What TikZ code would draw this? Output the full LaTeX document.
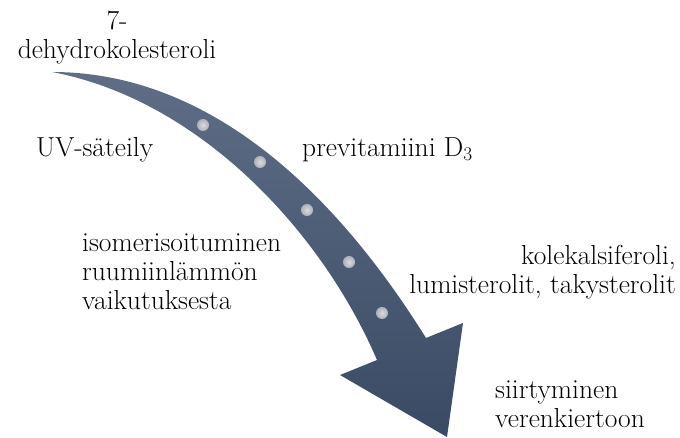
\documentclass[tikz,border=0pt]{standalone}
\usepackage{tikz}
\usetikzlibrary{positioning}
\definecolor{slatetop}{HTML}{5F6E86}
\definecolor{slatebottom}{HTML}{3A4A64}
\definecolor{beadlight}{HTML}{DADBE0}
\definecolor{beaddark}{HTML}{AEB1BA}

\begin{document}
\begin{tikzpicture}[
  x=1pt,y=-1pt,
  font=\rmfamily\fontsize{27.5}{29}\selectfont,
  caption/.style={
    inner sep=0pt,
    align=left
  },
  bead/.style={
    circle,
    inner sep=0pt,
    minimum size=12pt,
    inner color=beadlight,
    outer color=beaddark
  }
]
\useasboundingbox (0,0) rectangle (680,438);

% curved arrow
\path[top color=slatetop,bottom color=slatebottom]
  (52,72) .. controls (215,72) and (340,200) .. (426,338)
  -- (463,323) -- (447,437) -- (340,375) -- (377,360)
  .. controls (322,232) and (200,100) .. (52,72) -- cycle;

% beads on the arrow
\foreach \px/\py [count=\i] in {203/125,260/162,307/210,349/262,382/313}
  \node[bead] (bead\i) at (\px,\py) {};

% texts
\node[caption,align=center] (source) at (117,37) {7-\\dehydrokolesteroli};
\node[caption,anchor=west] (uv) at (36,150) {UV-säteily};
\node[caption,anchor=west] (previt) at (302,150) {previtamiini D\textsubscript{3}};
\node[caption,anchor=west] (isomer) at (82,272) {isomerisoituminen\\ruumiinlämmön\\vaikutuksesta};
\node[caption,anchor=east,align=right] (products) at (676,272) {kolekalsiferoli,\\lumisterolit, takysterolit};
\node[caption,anchor=west] (blood) at (495,404) {siirtyminen\\verenkiertoon};
\end{tikzpicture}
\end{document}
